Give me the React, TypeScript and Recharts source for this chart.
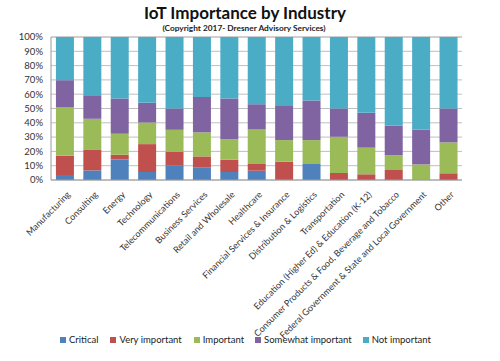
import { BarChart, Bar, XAxis, YAxis, CartesianGrid } from 'recharts';

const categories = [
  'Manufacturing', 'Consulting', 'Energy', 'Technology', 'Telecommunications',
  'Business Services', 'Retail and Wholesale', 'Healthcare', 'Financial Services & Insurance',
  'Distribution & Logistics', 'Transportation', 'Education (Higher Ed) & Education (K-12)',
  'Consumer Products & Food, Beverage and Tobacco', 'Federal Government & State and Local Government', 'Other',
];

const critical = [3.5, 6.7, 14.4, 5.6, 10.0, 8.6, 5.6, 6.5, 0.7, 11.2, 0, 0, 0, 0, 0];
const veryImportant = [13.5, 14.3, 3.3, 19.5, 9.8, 7.9, 8.6, 4.7, 12.1, 0, 4.9, 4.0, 7.0, 0, 4.7];
const important = [33.7, 21.8, 14.6, 15.1, 15.3, 16.8, 14.4, 24.1, 15.1, 16.7, 25.3, 18.6, 10.4, 10.9, 21.6];
const somewhatImportant = [19.1, 16.0, 24.7, 13.8, 14.9, 24.8, 28.4, 17.7, 24.4, 27.7, 19.8, 24.4, 20.5, 24.4, 23.7];
const notImportant = [30.2, 41.2, 43.0, 46.0, 50.0, 41.9, 43.0, 47.0, 47.7, 44.4, 50.0, 53.0, 62.1, 64.7, 50.0];

const yTicks = [0, 10, 20, 30, 40, 50, 60, 70, 80, 90, 100];

const series = [
  { key: 'critical', name: 'Critical', color: '#4F81BD' },
  { key: 'veryImportant', name: 'Very important', color: '#C0504D' },
  { key: 'important', name: 'Important', color: '#9BBB59' },
  { key: 'somewhatImportant', name: 'Somewhat important', color: '#8064A2' },
  { key: 'notImportant', name: 'Not important', color: '#4BACC6' },
];

const data = categories.map((name, i) => ({
  name,
  critical: critical[i],
  veryImportant: veryImportant[i],
  important: important[i],
  somewhatImportant: somewhatImportant[i],
  notImportant: notImportant[i],
}));

const FONT = 'Lato, "Open Sans", sans-serif';

function AngledTick({ x, y, payload }: any) {
  return (
    <g transform={`translate(${x + 4},${y + 5})`}>
      <text transform="rotate(-45)" textAnchor="end" dy="0.35em" fontSize={9} fill="#333" fontFamily={FONT}>
        {payload.value}
      </text>
    </g>
  );
}

export default function App() {
  return (
    <div style={{ position: 'absolute', left: 0, top: 0, width: 500, height: 361, background: '#fff', fontFamily: FONT }}>
      <div style={{ position: 'absolute', top: 2, width: 490, textAlign: 'center', fontSize: 17, fontWeight: 700, color: '#111' }}>
        IoT Importance by Industry
      </div>
      <div style={{ position: 'absolute', top: 23, width: 488, textAlign: 'center', fontSize: 8.3, fontWeight: 700, color: '#222' }}>
        (Copyright 2017- Dresner Advisory Services)
      </div>
      <BarChart
        width={500}
        height={361}
        data={data}
        margin={{ top: 37, right: 38, left: 6, bottom: 0 }}
        barCategoryGap="18%"
      >
        <CartesianGrid vertical={false} stroke="#bfbfbf" />
        <XAxis
          dataKey="name"
          interval={0}
          height={181}
          tick={<AngledTick />}
          tickLine={false}
          axisLine={{ stroke: '#9a9a9a' }}
        />
        <YAxis
          width={45}
          domain={[0, 100]}
          ticks={yTicks}
          interval={0}
          tickFormatter={(v) => `${v}%`}
          tick={{ fontSize: 9.5, fill: '#333', fontFamily: FONT }}
          tickLine={false}
          axisLine={{ stroke: '#9a9a9a' }}
        />
        {series.map((s) => (
          <Bar key={s.key} dataKey={s.key} name={s.name} stackId="a" fill={s.color} isAnimationActive={false} />
        ))}
      </BarChart>
      <div style={{ position: 'absolute', top: 334, left: 60, display: 'flex', fontSize: 9.5, color: '#222' }}>
        {series.map((s, i) => (
          <div key={s.key} style={{ display: 'flex', alignItems: 'center', marginRight: [12, 12, 11, 11, 0][i] }}>
            <span style={{ display: 'inline-block', width: 6, height: 6, background: s.color, marginRight: 3 }} />
            {s.name}
          </div>
        ))}
      </div>
    </div>
  );
}
